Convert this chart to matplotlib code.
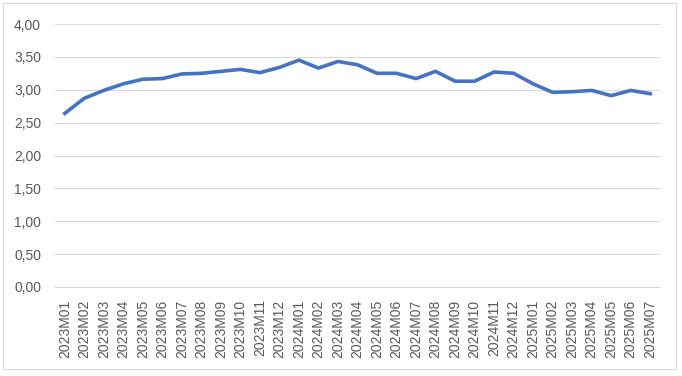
import numpy as np
import matplotlib
matplotlib.use("Agg")
import matplotlib.pyplot as plt
from matplotlib.patches import Rectangle
from matplotlib.ticker import FuncFormatter

months = ["2023M01", "2023M02", "2023M03", "2023M04", "2023M05", "2023M06",
          "2023M07", "2023M08", "2023M09", "2023M10", "2023M11", "2023M12",
          "2024M01", "2024M02", "2024M03", "2024M04", "2024M05", "2024M06",
          "2024M07", "2024M08", "2024M09", "2024M10", "2024M11", "2024M12",
          "2025M01", "2025M02", "2025M03", "2025M04", "2025M05", "2025M06",
          "2025M07"]
values = [2.64, 2.87, 2.99, 3.09, 3.16, 3.17, 3.24, 3.25, 3.28, 3.31, 3.26, 3.34,
          3.45, 3.33, 3.43, 3.38, 3.25, 3.25, 3.17, 3.28, 3.13, 3.13, 3.27, 3.25,
          3.09, 2.96, 2.97, 2.99, 2.91, 2.99, 2.94]

plt.rcParams["font.family"] = ["Liberation Sans", "DejaVu Sans"]
text_col = "#595959"

fig = plt.figure(figsize=(6.82, 3.76), dpi=100)
ax = fig.add_axes([55 / 682, 1 - 287 / 376, 605 / 682, 263 / 376])

x = np.arange(len(months))
ax.plot(x, values, color="#4472C4", linewidth=2.6, solid_joinstyle="round")

ax.set_xlim(-0.5, len(months) - 0.5)
ax.set_ylim(0, 4)
ax.set_yticks(np.arange(0, 4.01, 0.5))
ax.yaxis.set_major_formatter(FuncFormatter(lambda v, p: f"{v:.2f}".replace(".", ",")))
ax.set_xticks(x)
ax.set_xticklabels(months, rotation=90)
ax.tick_params(axis="both", length=0, labelsize=10, colors=text_col)
ax.tick_params(axis="x", pad=9)
ax.tick_params(axis="y", pad=10)

ax.grid(axis="y", color="#D9D9D9", linewidth=0.8)
ax.set_axisbelow(True)
for s in ["top", "right", "left"]:
    ax.spines[s].set_visible(False)
ax.spines["bottom"].set_color("#D9D9D9")
ax.spines["bottom"].set_linewidth(0.8)

fig.patches.append(Rectangle((3 / 682, 7 / 376), 673 / 682, 366 / 376,
                             transform=fig.transFigure, fill=False,
                             edgecolor="#D9D9D9", linewidth=0.8))

fig.savefig("out.png", dpi=100)
